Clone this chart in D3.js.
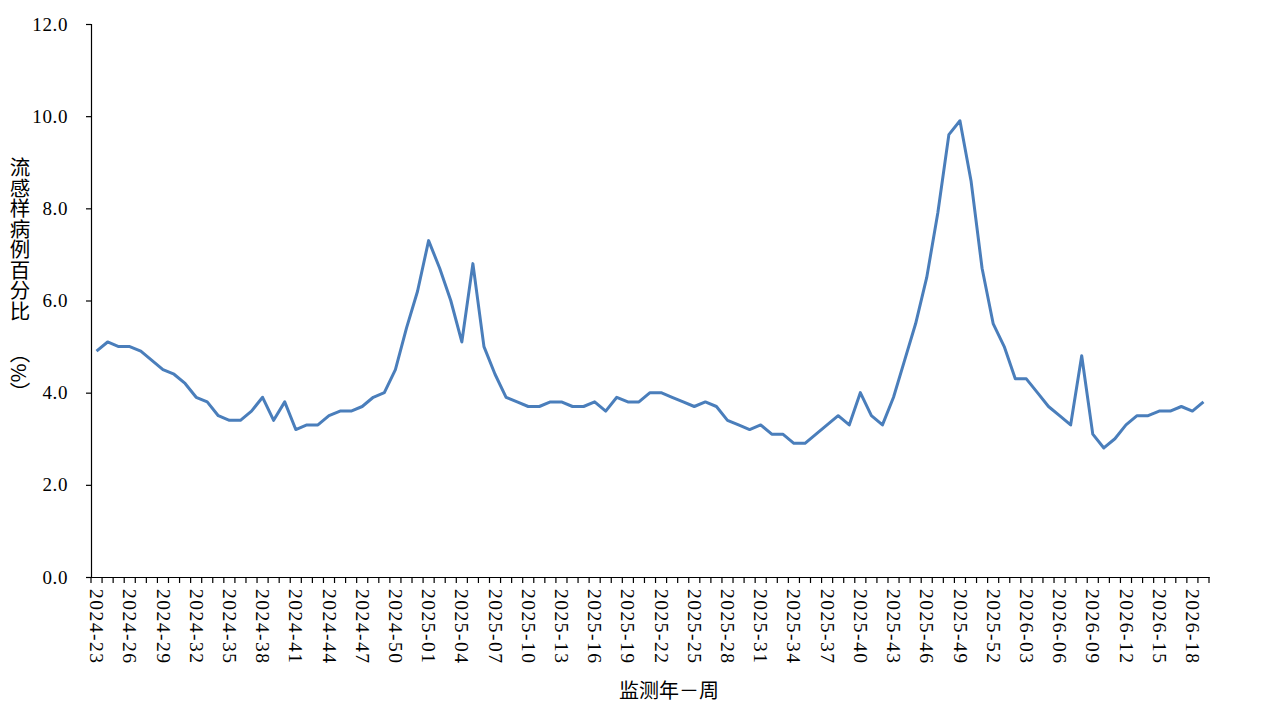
<!DOCTYPE html>
<html>
<head>
<meta charset="utf-8">
<script src="https://cdn.jsdelivr.net/npm/d3@7"></script>
<style>
  body { margin: 0; background: #fff; }
  svg { display: block; }
</style>
</head>
<body>
<script>
// weeks 2024-23 .. 2026-19
const weeks2024 = d3.range(23, 53);
const weeks2025 = d3.range(1, 53);
const weeks2026 = d3.range(1, 20);

const weeks = [].concat(
  weeks2024.map(w => '2024-' + String(w).padStart(2, '0')),
  weeks2025.map(w => '2025-' + String(w).padStart(2, '0')),
  weeks2026.map(w => '2026-' + String(w).padStart(2, '0'))
);

// ILI%
const ili = [
  4.9, 5.1, 5.0, 5.0, 4.9, 4.7, 4.5, 4.4, 4.2, 3.9,
  3.8, 3.5, 3.4, 3.4, 3.6, 3.9, 3.4, 3.8, 3.2, 3.3,
  3.3, 3.5, 3.6, 3.6, 3.7, 3.9, 4.0, 4.5, 5.4, 6.2,
  7.3, 6.7, 6.0, 5.1, 6.8, 5.0, 4.4, 3.9, 3.8, 3.7,
  3.7, 3.8, 3.8, 3.7, 3.7, 3.8, 3.6, 3.9, 3.8, 3.8,
  4.0, 4.0, 3.9, 3.8, 3.7, 3.8, 3.7, 3.4, 3.3, 3.2,
  3.3, 3.1, 3.1, 2.9, 2.9, 3.1, 3.3, 3.5, 3.3, 4.0,
  3.5, 3.3, 3.9, 4.7, 5.5, 6.5, 7.9, 9.6, 9.9, 8.6,
  6.7, 5.5, 5.0, 4.3, 4.3, 4.0, 3.7, 3.5, 3.3, 4.8,
  3.1, 2.8, 3.0, 3.3, 3.5, 3.5, 3.6, 3.6, 3.7, 3.6,
  3.8
];

const yTicks = [0, 2, 4, 6, 8, 10, 12];

const W = 1280, H = 720;
const mLeft = 91, mRight = 1209, mTop = 24, mBottom = 577;

const svg = d3.select('body').append('svg')
  .attr('width', W)
  .attr('height', H);

const x = d3.scaleBand()
  .domain(weeks)
  .range([mLeft, mRight])
  .padding(0);

const y = d3.scaleLinear()
  .domain([0, 12])
  .range([mBottom, mTop]);

// y axis
const yAxis = svg.append('g')
  .attr('transform', 'translate(' + mLeft + ',0)')
  .call(d3.axisLeft(y).tickValues(yTicks).tickSize(5).tickPadding(18)
    .tickFormat(d3.format('.1f')));
yAxis.select('.domain').attr('stroke', '#000').attr('stroke-width', 1.2);
yAxis.selectAll('.tick line').attr('stroke', '#000').attr('stroke-width', 1.2);
yAxis.selectAll('.tick text')
  .attr('font-family', '"Liberation Serif", "Times New Roman", serif')
  .attr('font-size', 19)
  .style('letter-spacing', '0.6px')
  .attr('fill', '#000');

// x axis
const xAxis = svg.append('g')
  .attr('transform', 'translate(0,' + mBottom + ')')
  .call(d3.axisBottom(x).tickSize(0)
    .tickFormat((d, i) => i % 3 === 0 ? d : ''));
xAxis.select('.domain').attr('stroke', '#000').attr('stroke-width', 1.2);
xAxis.selectAll('.tick text')
  .attr('font-family', '"Liberation Serif", "Times New Roman", serif')
  .attr('font-size', 19.5)
  .style('letter-spacing', '1.5px')
  .attr('fill', '#000')
  .attr('text-anchor', 'start')
  .attr('dy', '0.33em')
  .attr('transform', 'translate(0,12) rotate(90)')
  .attr('x', 0)
  .attr('y', 0);

// tick marks between categories
const bounds = weeks.map(d => x(d)).concat([x.range()[1]]);
xAxis.selectAll('.cat-tick')
  .data(bounds)
  .enter()
  .append('line')
  .attr('class', 'cat-tick')
  .attr('x1', d => d)
  .attr('x2', d => d)
  .attr('y1', 0)
  .attr('y2', 6)
  .attr('stroke', '#000')
  .attr('stroke-width', 1.2);

// line
const line = d3.line()
  .x((d, i) => x(weeks[i]) + x.bandwidth() / 2)
  .y(d => y(d));

svg.append('path')
  .datum(ili)
  .attr('d', line)
  .attr('fill', 'none')
  .attr('stroke', '#4a7ebb')
  .attr('stroke-width', 3)
  .attr('stroke-linejoin', 'round');

// axis titles
svg.append('text')
  .attr('x', 669)
  .attr('y', 698)
  .attr('text-anchor', 'middle')
  .attr('font-family', '"Noto Sans CJK SC", sans-serif')
  .attr('font-size', 20)
  .attr('fill', '#000')
  .text('监测年－周');

svg.append('text')
  .attr('x', 20)
  .attr('y', 157)
  .style('writing-mode', 'vertical-rl')
  .attr('font-family', '"Noto Sans CJK SC", sans-serif')
  .attr('font-size', 20.5)
  .attr('fill', '#000')
  .text('流感样病例百分比');

svg.append('text')
  .attr('x', 20)
  .attr('y', 343)
  .style('writing-mode', 'vertical-rl')
  .attr('font-family', '"Noto Sans CJK SC", sans-serif')
  .attr('font-size', 20.5)
  .attr('fill', '#000')
  .text('（%）');
</script>
</body>
</html>
